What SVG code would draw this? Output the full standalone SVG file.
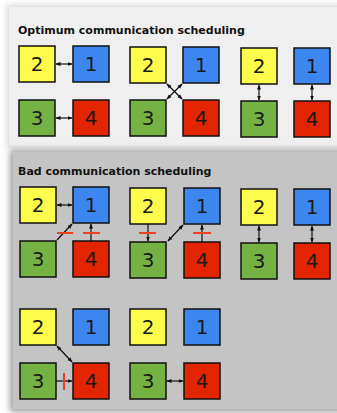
<svg xmlns="http://www.w3.org/2000/svg" width="337" height="413" viewBox="0 0 337 413">
<defs>
<filter id="sh" x="-10%" y="-10%" width="130%" height="130%"><feGaussianBlur stdDeviation="3"/></filter>
<marker id="ah" viewBox="0 0 10 10" refX="9" refY="5" markerWidth="5" markerHeight="5" orient="auto-start-reverse" markerUnits="userSpaceOnUse"><path d="M0,1 L10,5 L0,9 z" fill="#111"/></marker>
</defs>
<style>
.b{stroke:#111;stroke-width:1.5}
.y{fill:#fdfc4c}.bl{fill:#3e86ef}.g{fill:#74b343}.r{fill:#e22400}
.n{font-family:"DejaVu Sans",sans-serif;font-size:20px;fill:#1a1a1a;text-anchor:middle}
.t{font-family:"DejaVu Sans","Liberation Sans",sans-serif;font-size:11px;font-weight:bold;fill:#111}
.c{stroke:#111;stroke-width:1.2;fill:none}
.d{marker-start:url(#ah);marker-end:url(#ah)}
.e{marker-end:url(#ah)}
.x{stroke:#f04020;stroke-width:2}
</style>
<rect width="337" height="413" fill="#ffffff"/>
<rect x="7" y="5" width="340" height="143" fill="#d4d4d4" filter="url(#sh)"/>
<rect x="9" y="7" width="340" height="139" fill="#efefef"/>
<rect x="10" y="150" width="336" height="262" fill="#9e9e9e" filter="url(#sh)"/>
<rect x="13" y="152" width="330" height="257" fill="#c4c4c4"/>
<text class="t" x="18" y="34">Optimum communication scheduling</text>
<text class="t" x="18" y="175">Bad communication scheduling</text>

<g id="o1">
<rect class="b y" x="19" y="46" width="36" height="36"/><text class="n" x="37" y="71">2</text>
<rect class="b bl" x="73" y="46" width="36" height="36"/><text class="n" x="91" y="71">1</text>
<rect class="b g" x="19" y="100" width="36" height="36"/><text class="n" x="37" y="125">3</text>
<rect class="b r" x="73" y="100" width="36" height="36"/><text class="n" x="91" y="125">4</text>
</g>
<g id="o2">
<rect class="b y" x="130" y="47" width="36" height="36"/><text class="n" x="148" y="72">2</text>
<rect class="b bl" x="183" y="47" width="36" height="36"/><text class="n" x="201" y="72">1</text>
<rect class="b g" x="130" y="100" width="36" height="36"/><text class="n" x="148" y="125">3</text>
<rect class="b r" x="183" y="100" width="36" height="36"/><text class="n" x="201" y="125">4</text>
</g>
<g id="o3">
<rect class="b y" x="241" y="48" width="36" height="36"/><text class="n" x="259" y="73">2</text>
<rect class="b bl" x="294" y="48" width="36" height="36"/><text class="n" x="312" y="73">1</text>
<rect class="b g" x="241" y="101" width="36" height="36"/><text class="n" x="259" y="126">3</text>
<rect class="b r" x="294" y="101" width="36" height="36"/><text class="n" x="312" y="126">4</text>
</g>
<g id="b1">
<rect class="b y" x="20" y="187" width="36" height="36"/><text class="n" x="38" y="212">2</text>
<rect class="b bl" x="73" y="187" width="36" height="36"/><text class="n" x="91" y="212">1</text>
<rect class="b g" x="20" y="241" width="36" height="36"/><text class="n" x="38" y="266">3</text>
<rect class="b r" x="73" y="241" width="36" height="36"/><text class="n" x="91" y="266">4</text>
</g>
<g id="b2">
<rect class="b y" x="130" y="188" width="36" height="36"/><text class="n" x="148" y="213">2</text>
<rect class="b bl" x="184" y="188" width="36" height="36"/><text class="n" x="202" y="213">1</text>
<rect class="b g" x="130" y="242" width="36" height="36"/><text class="n" x="148" y="267">3</text>
<rect class="b r" x="184" y="242" width="36" height="36"/><text class="n" x="202" y="267">4</text>
</g>
<g id="b3">
<rect class="b y" x="241" y="189" width="36" height="36"/><text class="n" x="259" y="214">2</text>
<rect class="b bl" x="294" y="189" width="36" height="36"/><text class="n" x="312" y="214">1</text>
<rect class="b g" x="241" y="243" width="36" height="36"/><text class="n" x="259" y="268">3</text>
<rect class="b r" x="294" y="243" width="36" height="36"/><text class="n" x="312" y="268">4</text>
</g>
<g id="b4">
<rect class="b y" x="20" y="309" width="36" height="36"/><text class="n" x="38" y="334">2</text>
<rect class="b bl" x="73" y="309" width="36" height="36"/><text class="n" x="91" y="334">1</text>
<rect class="b g" x="20" y="363" width="36" height="36"/><text class="n" x="38" y="388">3</text>
<rect class="b r" x="73" y="363" width="36" height="36"/><text class="n" x="91" y="388">4</text>
</g>
<g id="b5">
<rect class="b y" x="130" y="309" width="36" height="36"/><text class="n" x="148" y="334">2</text>
<rect class="b bl" x="184" y="309" width="36" height="36"/><text class="n" x="202" y="334">1</text>
<rect class="b g" x="130" y="363" width="36" height="36"/><text class="n" x="148" y="388">3</text>
<rect class="b r" x="184" y="363" width="36" height="36"/><text class="n" x="202" y="388">4</text>
</g>

<g id="connectors">
<line class="c d" x1="56" y1="64" x2="72" y2="64"/>
<line class="c d" x1="56" y1="118" x2="72" y2="118"/>
<line class="c d" x1="167" y1="84" x2="182" y2="99"/>
<line class="c d" x1="182" y1="84" x2="167" y2="99"/>
<line class="c d" x1="259" y1="85" x2="259" y2="100"/>
<line class="c d" x1="312" y1="85" x2="312" y2="100"/>

<line class="c d" x1="57" y1="205" x2="72" y2="205"/>
<line class="c e" x1="57" y1="240" x2="72" y2="224"/>
<line class="c e" x1="91" y1="241" x2="91" y2="224"/>
<line class="x" x1="57" y1="233" x2="73" y2="233"/>
<line class="x" x1="83" y1="233" x2="100" y2="233"/>

<line class="c e" x1="148" y1="224" x2="148" y2="241"/>
<line class="x" x1="139" y1="233" x2="156" y2="233"/>
<line class="c d" x1="168" y1="241" x2="183" y2="225"/>
<line class="c e" x1="202" y1="242" x2="202" y2="225"/>
<line class="x" x1="193" y1="233" x2="211" y2="233"/>

<line class="c d" x1="259" y1="226" x2="259" y2="242"/>
<line class="c d" x1="312" y1="226" x2="312" y2="242"/>

<line class="c d" x1="57" y1="346" x2="72" y2="362"/>
<line class="c e" x1="56" y1="381" x2="72" y2="381"/>
<line class="x" x1="64" y1="373" x2="64" y2="390"/>
<line class="c d" x1="167" y1="381" x2="183" y2="381"/>
</g>
</svg>
